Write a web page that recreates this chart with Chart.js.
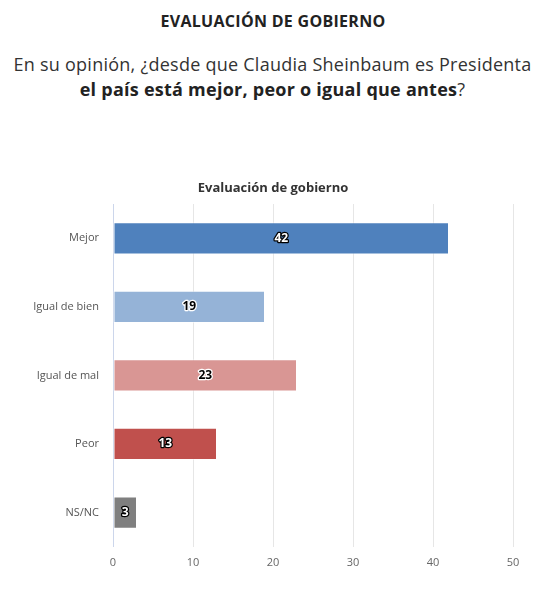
<!DOCTYPE html>
<html>
<head>
<meta charset="utf-8">
<script src="https://cdn.jsdelivr.net/npm/chart.js@4"></script>
<style>
  body { margin: 0; background: #fff; font-family: "Open Sans", sans-serif; }
  .page { position: relative; width: 535px; height: 594px; overflow: hidden; }
  h1 { position: absolute; top: 10px; left: 0; width: 546px; margin: 0; text-align: center;
       font-size: 16px; letter-spacing: 0.3px; font-weight: 700; color: #222; }
  .q { position: absolute; top: 52px; left: 0; width: 545px; margin: 0; text-align: center;
       font-size: 18px; letter-spacing: 0.25px; line-height: 25px; color: #333; }
  .q b { color: #222; }
  .ctitle { position: absolute; top: 178px; left: 0; width: 546px; margin: 0; text-align: center;
       font-size: 13px; font-weight: 700; color: #333; }
  .wrap { position: absolute; top: 165px; left: 0; width: 535px; height: 429px; }
</style>
</head>
<body>
<div class="page">
  <h1>EVALUACIÓN DE GOBIERNO</h1>
  <p class="q">En su opinión, ¿desde que Claudia Sheinbaum es Presidenta<br><b>el país está mejor, peor o igual que antes</b>?</p>
  <div class="wrap"><canvas id="c"></canvas></div>
  <p class="ctitle">Evaluación de gobierno</p>
</div>
<script>
const categories = ['Mejor', 'Igual de bien', 'Igual de mal', 'Peor', 'NS/NC'];
const values = [42, 19, 23, 13, 3];
const barColors = ['#4f81bd', '#95b3d7', '#d99694', '#c0504d', '#7f7f7f'];
const labelDark = [false, true, true, false, false];
const xTicks = [0, 10, 20, 30, 40, 50];

// value labels inside the bars, with outline like the original
const barLabels = {
  id: 'barLabels',
  afterDatasetsDraw(chart) {
    const ctx = chart.ctx;
    const meta = chart.getDatasetMeta(0);
    ctx.save();
    ctx.font = 'bold 12px "Open Sans", sans-serif';
    ctx.textAlign = 'center';
    ctx.textBaseline = 'middle';
    ctx.lineJoin = 'round';
    meta.data.forEach((bar, i) => {
      const x = (bar.base + bar.x) / 2;
      const y = bar.y;
      const txt = String(values[i]);
      ctx.lineWidth = 2.5;
      ctx.strokeStyle = labelDark[i] ? '#fff' : '#000';
      ctx.strokeText(txt, x, y);
      ctx.fillStyle = labelDark[i] ? '#000' : '#fff';
      ctx.fillText(txt, x, y);
    });
    ctx.restore();
  }
};

new Chart(document.getElementById('c'), {
  type: 'bar',
  data: {
    labels: categories,
    datasets: [{
      data: values,
      backgroundColor: barColors,
      borderColor: 'rgba(255,255,255,0.5)',
      borderWidth: 1,
      borderSkipped: false,
      barPercentage: 0.47,
      categoryPercentage: 1
    }]
  },
  options: {
    indexAxis: 'y',
    responsive: true,
    maintainAspectRatio: false,
    animation: false,
    layout: { padding: { left: 0, right: 22, top: 39, bottom: 16 } },
    plugins: {
      legend: { display: false },
      tooltip: { enabled: false },
      title: { display: false }
    },
    scales: {
      x: {
        min: 0, max: 50,
        afterBuildTicks(scale) { scale.ticks = xTicks.map(v => ({ value: v })); },
        grid: {
          color: ctx => ctx.tick && ctx.tick.value === 0 ? '#ccd6eb' : '#e6e6e6',
          lineWidth: 1,
          drawTicks: false
        },
        border: { display: false },
        ticks: { color: '#666', font: { family: 'Open Sans', size: 11 }, padding: 9 }
      },
      y: {
        afterFit(scale) { scale.width = 113; },
        grid: { display: false, drawTicks: false },
        border: { display: false },
        ticks: { color: '#555', font: { family: 'Open Sans', size: 11 }, padding: 14 }
      }
    }
  },
  plugins: [barLabels]
});
</script>
</body>
</html>
